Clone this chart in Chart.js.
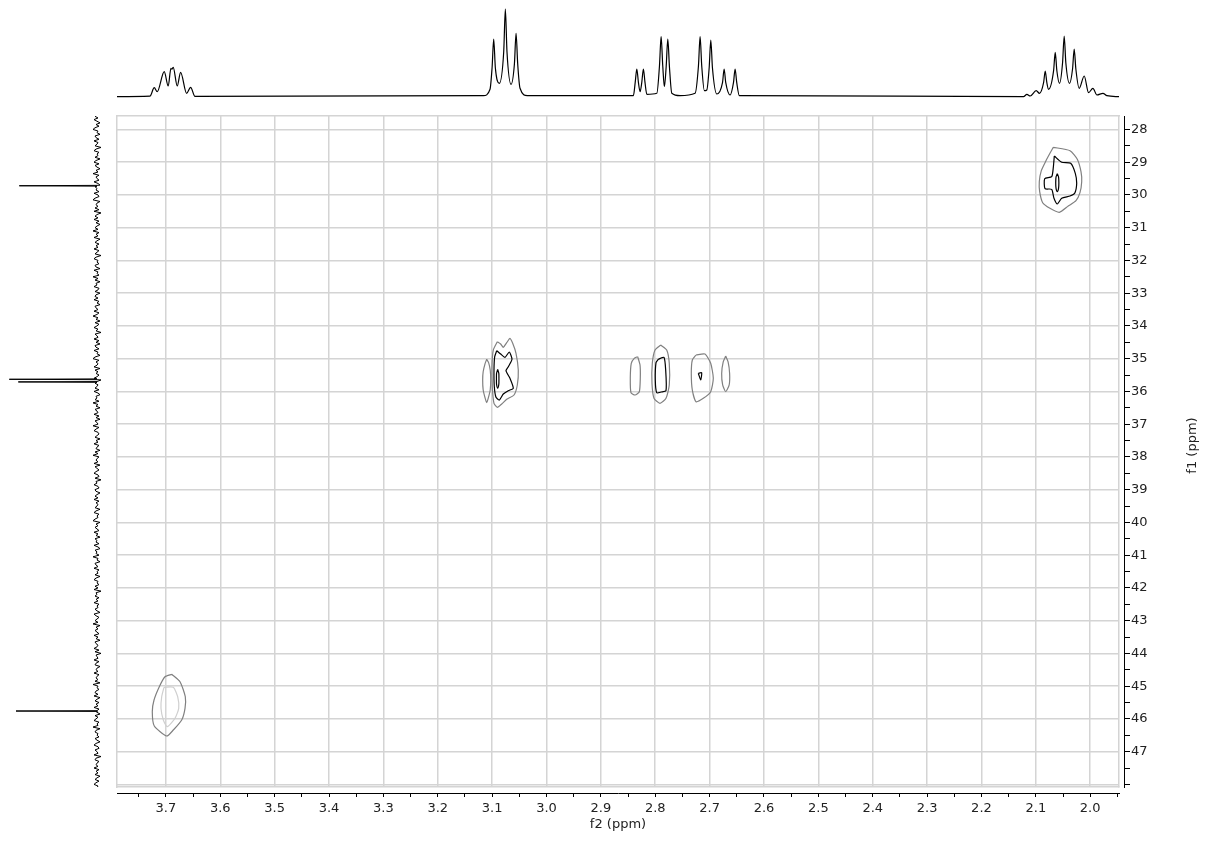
<!DOCTYPE html>
<html>
<head>
<meta charset="utf-8">
<script src="https://cdn.jsdelivr.net/npm/chart.js@4.4.1/dist/chart.umd.min.js"></script>
<style>
  body { margin: 0; background: #fff; }
  #wrap { position: relative; width: 1213px; height: 841px; }
  canvas { position: absolute; }
</style>
</head>
<body>
<div id="wrap">
  <canvas id="main" width="1213" height="841" style="left:0;top:0"></canvas>
  <canvas id="topSpec" width="1002" height="116" style="left:117px;top:0"></canvas>
  <canvas id="leftSpec" width="117" height="671" style="left:0;top:116px"></canvas>
</div>
<script>
// axis ranges (ppm)
var f2Range = [1.947, 3.79];
var f1Range = [27.59, 48.08];

// 1H projection (f2 ppm, height)
var topPpm = [3.79, 3.7294, 3.7215, 3.716, 3.7031, 3.6958, 3.6908, 3.689, 3.6866, 3.6792, 3.673, 3.6619, 3.6546, 3.6466,
  3.116, 3.1039, 3.1001, 3.0971, 3.0941, 3.0868, 3.0787, 3.0757, 3.0727, 3.0652, 3.059, 3.056, 3.053, 3.0487, 3.0352,
  2.8402, 2.8369, 2.8339, 2.8309, 2.8279, 2.8248, 2.8218, 2.8188, 2.8155, 2.7971,
  2.7922, 2.7892, 2.7862, 2.7832, 2.7799, 2.7769, 2.7739, 2.7695, 2.7543,
  2.7267, 2.7205, 2.7175, 2.7145, 2.7096, 2.7052, 2.7008, 2.6978, 2.6948, 2.6867,
  2.6763, 2.6733, 2.6703, 2.6623, 2.6561, 2.6531, 2.6501, 2.6452, 2.35,
  2.1226, 2.1164, 2.1103, 2.0993, 2.0932, 2.0857, 2.0827, 2.0797, 2.0766,
  2.0673, 2.0643, 2.0613, 2.0564, 2.0508, 2.0478, 2.0448, 2.038, 2.0324, 2.0294, 2.0264, 2.0202,
  2.011, 2.003, 1.995, 1.9876, 1.9765, 1.9692, 1.947];
var topInt = [0, 0.5, 9, 5, 25, 10.7, 28.4, 27.5, 29.4, 10.7, 24.4, 3.4, 9.4, 0.3,
  1, 7.4, 29, 57.7, 29, 13.4, 45, 87.7, 45, 12.4, 33, 63.4, 33, 8.4, 1,
  1, 14, 27.7, 14, 5, 14, 27.7, 14, 2.4, 3.4,
  31, 60, 31, 10, 30, 57.7, 30, 3.4, 1,
  3.4, 31, 60, 31, 6, 6.7, 29, 56.7, 29, 2.7,
  14, 27.7, 14, 1.7, 14, 27.7, 14, 1, 0.5,
  0, 2.4, 0.7, 6, 3.4, 14, 25.7, 14, 7.4,
  26, 44.4, 26, 13.4, 34, 60.7, 34, 13.4, 28, 47.7, 28, 8.4,
  20.7, 4, 8.4, 1.7, 3.4, 1, 0];

// 13C projection: noise samples from 27.6 ppm every 0.05 ppm, plus peaks
var leftStart = 27.6;
var leftStep = 0.05;
var leftNoise = [
  2,-1,3,0,-3,1,-2,2,4,-1,0,-3,2,1,-2,3,-1,0,2,-4,
  1,3,-2,0,-1,2,-3,1,3,-2,2,0,-3,1,-1,4,-2,1,0,-2,
  3,-1,-3,2,0,1,-2,3,-1,-2,2,4,-3,0,1,-1,2,-2,3,-4,
  0,2,-1,3,-2,1,-3,0,2,-1,4,-2,1,-1,3,-3,0,2,-2,1,
  -1,3,-2,0,2,-4,1,3,-1,0,-2,2,1,-3,3,-1,0,-2,4,-1,
  2,-3,1,0,3,-2,-1,2,-3,1,2,-1,3,-2,0,-3,2,1,-1,3,
  -2,0,4,-1,1,-3,2,-2,0,3,-1,1,-4,2,0,-1,3,-2,1,-3,
  2,1,-2,3,-1,0,-3,2,4,-2,1,-1,0,3,-3,2,-1,1,-2,0,
  3,-4,1,2,-1,0,2,-2,3,-1,-3,1,0,2,-2,4,-1,1,-3,2,
  0,-1,3,-2,1,-3,2,0,-1,4,-2,1,3,-1,-2,0,2,-3,1,-1,
  3,-2,0,1,-3,2,-1,4,-2,0,1,-1,3,-3,2,0,-2,1,3,-1,
  -2,2,-4,1,0,3,-1,-2,2,1,-3,0,2,-1,3,-2,1,-1,0,2,
  -3,1,3,-2,0,-1,2,4,-3,1,-1,2,0,-2,3,-1,1,-3,2,0,
  1,-2,3,-1,-3,2,0,1,-2,4,-1,0,-3,2,1,-1,3,-2,0,-1,
  2,-3,1,3,-1,0,-2,2,-1,3,-4,1,0,2,-2,1,-1,3,-2,0,
  -1,2,0,-3,3,1,-2,0,2,-1,4,-3,1,-1,2,0,-2,3,-1,1,
  -3,2,1,-1,0,3,-2,2,-4,1,0,-1,3,-2,1,2,-3,0,1,-1,
  3,-2,0,1,-1,2,-3,4,-1,0,-2,1,2,-1,3,-3,0,2,-2,1,
  -1,3,-2,1,0,-3,2,-1,1,3,-2,0,-1,4,-3,1,2,-1,0,-2,
  2,0,-3,1,3,-1,-2,2,0,-1,3,-4,1,2,-2,0,1,-1,3,-2,
  1,-1,2,-3,0,2,-2,1,3,-1,0,-2,2,-1,1,-3,2,0,-1,1];
var leftPeakPpm = [29.72, 35.63, 35.71, 45.76];
var leftPeakInt = [77.7, 87.7, 78.7, 81];

// HSQC contours, [f2, f1] in ppm
var c205Outer = [[2.0678,28.546],[2.0371,28.650],[2.0237,28.912],[2.0169,29.291],[2.0156,29.596],[2.0188,29.932],
  [2.0261,30.176],[2.0403,30.338],[2.0568,30.531],[2.0740,30.409],[2.0874,30.238],[2.0929,29.902],[2.0936,29.596],
  [2.0899,29.260],[2.0813,28.955],[2.0740,28.729]];
var c205Mid = [[2.0660,28.811],[2.0524,29.004],[2.0359,29.034],[2.0274,29.340],[2.0248,29.645],[2.0285,29.951],
  [2.0371,30.033],[2.0524,30.103],[2.0605,30.277],[2.0666,30.103],[2.0708,29.828],[2.0831,29.810],[2.0837,29.505],
  [2.0708,29.444],[2.0678,29.157]];
var c205Core = [[2.0605,29.35],[2.0582,29.45],[2.0576,29.63],[2.0582,29.80],[2.0605,29.90],[2.0628,29.80],[2.0634,29.63],[2.0628,29.45]];

var c308Outer = [[3.0905,34.482],[3.0843,34.552],[3.0795,34.653],[3.0732,34.513],[3.0672,34.378],[3.0622,34.531],
  [3.0561,34.836],[3.0519,35.346],[3.0537,35.804],[3.0598,36.110],[3.0732,36.241],[3.0824,36.385],[3.0905,36.485],
  [3.0966,36.363],[3.0997,35.856],[3.1003,35.246],[3.0979,34.736]];
var c311Outer = [[3.1100,35.02],[3.1130,35.15],[3.1165,35.40],[3.1174,35.65],[3.1165,35.95],[3.1130,36.20],[3.1100,36.345],
  [3.1070,36.20],[3.1035,35.95],[3.1026,35.65],[3.1035,35.35],[3.1065,35.12]];
var c308Mid = [[3.0916,34.757],[3.0843,34.858],[3.0764,34.959],[3.0685,34.797],[3.0635,35.020],[3.0703,35.246],
  [3.0745,35.368],[3.0672,35.600],[3.0611,35.905],[3.0703,35.978],[3.0795,36.079],[3.0868,36.263],[3.0929,36.180],
  [3.0960,35.856],[3.0966,35.346],[3.0953,34.940]];
var c309Core = [[3.0898,35.33],[3.0877,35.45],[3.0875,35.62],[3.0877,35.78],[3.0898,35.90],[3.0919,35.78],[3.0921,35.62],[3.0919,35.45]];

var c284Outer = [[2.8323,34.940],[2.8280,35.194],[2.8275,35.600],[2.8293,36.009],[2.8372,36.110],[2.8446,36.040],
  [2.8459,35.600],[2.8441,35.142],[2.8386,34.989]];
var c279Outer = [[2.7900,34.583],[2.7789,34.736],[2.7742,35.142],[2.7742,35.804],[2.7802,36.211],[2.7913,36.363],
  [2.8023,36.211],[2.8060,35.753],[2.8054,35.142],[2.8004,34.736]];
var c279Mid = [[2.7944,35.020],[2.7839,34.959],[2.7808,35.346],[2.7802,35.978],[2.7889,36.018],[2.7973,36.040],
  [2.7999,35.652],[2.7986,35.123]];
var c272Outer = [[2.7250,34.888],[2.7085,34.858],[2.6980,35.142],[2.6932,35.600],[2.6980,36.009],[2.7116,36.211],
  [2.7250,36.314],[2.7318,35.957],[2.7337,35.447],[2.7318,35.041]];
var c272Mid = [[2.7208,35.447],[2.7146,35.429],[2.7164,35.652]];
var c267Outer = [[2.6704,34.92],[2.6660,35.10],[2.6632,35.45],[2.6640,35.80],[2.6704,36.01],[2.6760,35.80],[2.6778,35.45],[2.6750,35.10]];

var c370Outer = [[3.6894,44.639],[3.6741,44.865],[3.6644,45.323],[3.6649,45.677],[3.6710,46.034],[3.6864,46.340],
  [3.6986,46.523],[3.7214,46.218],[3.7251,45.781],[3.7219,45.424],[3.7122,45.017],[3.7017,44.712]];
var c370Inner = [[3.7036,45.036],[3.6864,45.036],[3.6784,45.323],[3.6765,45.677],[3.6833,45.982],[3.6975,46.239],
  [3.7048,46.034],[3.7091,45.677],[3.7078,45.323]];

var contours = [
  [c205Outer, 'outer'], [c205Mid, 'mid'], [c205Core, 'mid'],
  [c308Outer, 'outer'], [c311Outer, 'outer'], [c308Mid, 'mid'], [c309Core, 'mid'],
  [c284Outer, 'outer'], [c279Outer, 'outer'], [c279Mid, 'mid'],
  [c272Outer, 'outer'], [c272Mid, 'mid'], [c267Outer, 'outer'],
  [c370Outer, 'outer'], [c370Inner, 'faint']
];

var levelColor = { outer: '#808080', mid: '#000000', faint: '#cfcfcf' };
var GRID = '#d4d4d4';
var TEXT = '#222222';
var FONT = { family: '"DejaVu Sans", Verdana, sans-serif', size: 13 };

Chart.defaults.font.family = FONT.family;
Chart.defaults.font.size = 13;

// main contour plot
var contourSets = contours.map(function (c) {
  var pts = c[0].map(function (p) { return { x: p[0], y: p[1] }; });
  pts.push(pts[0]);
  return {
    data: pts,
    showLine: true,
    borderColor: levelColor[c[1]],
    borderWidth: 1.2,
    pointRadius: 0,
    tension: 0.2,
    xAxisID: 'x',
    yAxisID: 'y'
  };
});

var f1Title = {
  id: 'f1Title',
  afterDraw: function (chart) {
    var ctx = chart.ctx, area = chart.chartArea;
    ctx.save();
    ctx.translate(1193, (area.top + area.bottom) / 2 - 6);
    ctx.rotate(-Math.PI / 2);
    ctx.font = '13px ' + FONT.family;
    ctx.fillStyle = TEXT;
    ctx.textAlign = 'center';
    ctx.textBaseline = 'middle';
    ctx.fillText('f1 (ppm)', 0, 0);
    ctx.restore();
  }
};

function frameAxis(pos, axisRange, reverse) {
  return {
    type: 'linear', position: pos, reverse: reverse,
    min: axisRange[0], max: axisRange[1],
    ticks: { display: false },
    grid: { drawOnChartArea: false, drawTicks: false },
    border: { display: true, color: GRID, width: 1.5 },
    afterFit: function (s) { if (s.isHorizontal()) s.height = 0; else s.width = 0; }
  };
}

new Chart(document.getElementById('main'), {
  type: 'scatter',
  data: { datasets: contourSets },
  options: {
    responsive: false,
    animation: false,
    events: [],
    layout: { padding: { left: 117, top: 116, right: 0, bottom: 0 } },
    plugins: { legend: { display: false }, tooltip: { enabled: false } },
    scales: {
      x: {
        type: 'linear', position: 'bottom', reverse: true, weight: 0,
        min: f2Range[0], max: f2Range[1],
        ticks: { display: false, stepSize: 0.1, includeBounds: false },
        grid: { color: GRID, lineWidth: 1.5, drawTicks: false },
        border: { display: true, color: GRID, width: 1.5 },
        afterFit: function (s) { s.height = 6; }
      },
      x2: {
        type: 'linear', position: 'bottom', reverse: true, weight: 1,
        min: f2Range[0], max: f2Range[1],
        ticks: {
          stepSize: 0.05, includeBounds: false, autoSkip: false, maxRotation: 0,
          padding: 4, color: TEXT, font: FONT,
          callback: function (v) {
            var t = v * 10;
            return Math.abs(t - Math.round(t)) < 1e-6 ? (Math.round(t) / 10).toFixed(1) : '';
          }
        },
        grid: { drawOnChartArea: false, tickLength: 4, tickColor: '#000', color: '#000' },
        border: { display: true, color: '#000', width: 1 },
        title: { display: true, text: 'f2 (ppm)', color: TEXT, font: FONT, padding: { top: 0, bottom: 9 } },
        afterFit: function (s) { s.height = 48; }
      },
      xt: frameAxis('top', f2Range, true),
      y: {
        type: 'linear', position: 'right', reverse: true, weight: 0,
        min: f1Range[0], max: f1Range[1],
        ticks: { display: false, stepSize: 1, includeBounds: false },
        grid: { color: GRID, lineWidth: 1.5, drawTicks: false },
        border: { display: true, color: GRID, width: 1.5 },
        afterFit: function (s) { s.width = 5; }
      },
      y2: {
        type: 'linear', position: 'right', reverse: true, weight: 1,
        min: f1Range[0], max: f1Range[1],
        ticks: {
          stepSize: 0.5, includeBounds: false, autoSkip: false,
          padding: 1, color: TEXT, font: FONT,
          callback: function (v) {
            var r = Math.round(v);
            return (Math.abs(v - r) < 1e-6 && r <= 47) ? String(r) : '';
          }
        },
        grid: { drawOnChartArea: false, tickLength: 6, tickColor: '#000', color: '#000' },
        border: { display: true, color: '#000', width: 1 },
        afterFit: function (s) { s.width = 89; }
      },
      yl: frameAxis('left', f1Range, true)
    }
  },
  plugins: [f1Title]
});

// top 1H trace
var topData = topPpm.map(function (p, i) { return { x: p, y: topInt[i] }; });
new Chart(document.getElementById('topSpec'), {
  type: 'scatter',
  data: { datasets: [{
    data: topData, showLine: true, borderColor: '#000', borderWidth: 1.2,
    pointRadius: 0, cubicInterpolationMode: 'monotone'
  }] },
  options: {
    responsive: false, animation: false, events: [],
    layout: { padding: 0 },
    plugins: { legend: { display: false }, tooltip: { enabled: false } },
    scales: {
      x: { type: 'linear', display: false, reverse: true, min: f2Range[0], max: f2Range[1] },
      y: { type: 'linear', display: false, min: -19.3, max: 96.7 }
    }
  }
});

// left 13C trace
var leftData = leftNoise.map(function (v, i) { return { x: v, y: leftStart + i * leftStep }; });
leftPeakPpm.forEach(function (p, i) {
  leftData.push({ x: 0, y: p - 0.012 });
  leftData.push({ x: leftPeakInt[i], y: p });
  leftData.push({ x: 0, y: p + 0.012 });
});
leftData.sort(function (a, b) { return a.y - b.y; });
new Chart(document.getElementById('leftSpec'), {
  type: 'scatter',
  data: { datasets: [{
    data: leftData, showLine: true, borderColor: '#000', borderWidth: 1,
    pointRadius: 0, tension: 0
  }] },
  options: {
    responsive: false, animation: false, events: [],
    layout: { padding: 0 },
    plugins: { legend: { display: false }, tooltip: { enabled: false } },
    scales: {
      x: { type: 'linear', display: false, reverse: true, min: -20, max: 97 },
      y: { type: 'linear', display: false, reverse: true, min: f1Range[0], max: f1Range[1] }
    }
  }
});
</script>
</body>
</html>
